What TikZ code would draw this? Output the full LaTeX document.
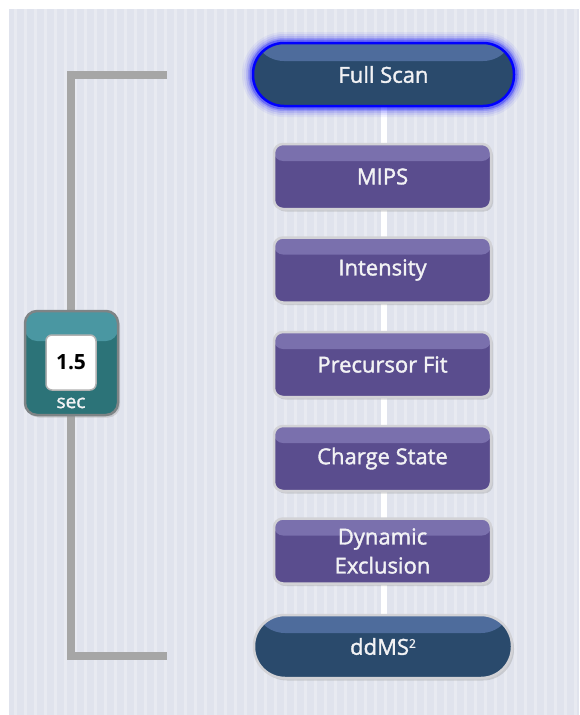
\documentclass[tikz,border=0pt]{standalone}
\usepackage{fontspec}
\setmainfont{Open Sans}
\newfontfamily\labelfont{Open Sans}[FakeBold=1.6]
\usetikzlibrary{shadows}

\definecolor{panelbg}{HTML}{E0E3ED}
\definecolor{panelstripe}{HTML}{E8EAF1}
\definecolor{bracketgray}{HTML}{A6A6A6}
\definecolor{scanbody}{HTML}{2A4A6C}
\definecolor{scanband}{HTML}{4E6C9C}
\definecolor{stepbody}{HTML}{5A4D8E}
\definecolor{stepband}{HTML}{7A70AD}
\definecolor{stepedge}{HTML}{D2D2D6}
\definecolor{timerbody}{HTML}{2C7378}
\definecolor{timerband}{HTML}{4A97A2}
\definecolor{timeredge}{HTML}{7E8486}
\definecolor{glowblue}{HTML}{0000FF}
\definecolor{labelwhite}{HTML}{F2F2F4}

\tikzset{
  x=1pt, y=-1pt,
  bandtop/.style 2 args={path picture={
      \fill[#1] ([yshift=2pt]path picture bounding box.north west) rectangle
        ([yshift=-#2]path picture bounding box.north east);}},
  softshadow/.style={drop shadow={shadow xshift=2pt, shadow yshift=-2.5pt,
    opacity=.35, fill=gray!80}},
  stepbox/.style={draw=stepedge, line width=2.5pt, fill=stepbody,
    rounded corners=9pt, minimum width=217pt, minimum height=65pt,
    bandtop={stepband}{17pt}, softshadow,
    text=labelwhite, font=\labelfont\fontsize{22}{24}\selectfont, align=center},
  scanpill/.style={draw=stepedge, line width=2.5pt, fill=scanbody,
    rounded corners=31pt, minimum width=258pt, minimum height=63pt,
    bandtop={scanband}{18pt},
    text=labelwhite, font=\labelfont\fontsize{22}{24}\selectfont},
  link/.style={draw=white, line width=6pt},
  bracket/.style={draw=bracketgray, line width=8pt},
}

\begin{document}
\begin{tikzpicture}
  % canvas and striped panel
  \useasboundingbox (0,0) rectangle (579,715);
  \fill[white] (0,0) rectangle (579,715);
  \fill[panelbg] (9,9) rectangle (579,715);
  \foreach \sx in {14,24,...,574}
    \fill[panelstripe] (\sx,9) rectangle (\sx+3,715);

  % time bracket on the left
  \coordinate (bt) at (167,75);
  \coordinate (btc) at (71,75);
  \coordinate (bbc) at (71,656);
  \coordinate (bb) at (167,656);
  \draw[bracket] (bt) -- (btc) -- (bbc) -- (bb);

  % white spine behind the pipeline
  \coordinate (spinetop) at (383.5,100);
  \coordinate (spinebot) at (383.5,620);
  \draw[link] (spinetop) -- (spinebot);

  % full scan with blue glow
  \foreach \w/\o in {20/.05,16/.07,12/.1,8/.16,5/.3}
    \draw[glowblue, line width=\w pt, opacity=\o, rounded corners=32pt]
      (252,42) rectangle (515,107);
  \node[scanpill, draw=glowblue, line width=2.5pt, minimum width=261pt]
    (scan) at (383.5,74.5) {Full Scan};

  % filtering steps
  \node[stepbox] (mips) at (382.5,176.5) {MIPS};
  \node[stepbox] (inten) at (382.5,270) {Intensity};
  \node[stepbox] (prec) at (382.5,364.5) {Precursor Fit};
  \node[stepbox] (charge) at (382.5,458.5) {Charge State};
  \node[stepbox, font=\labelfont\fontsize{22}{29}\selectfont] (dyn) at (382.5,551) {Dynamic\\Exclusion};

  % data dependent MS2
  \node[scanpill, softshadow] (ddms) at (383,646.5)
    {ddMS\raisebox{7pt}{\fontsize{12}{12}\selectfont 2}};

  % cycle time badge
  \node[draw=timeredge, line width=2.5pt, fill=timerbody, rounded corners=12pt,
    minimum width=93pt, minimum height=104pt, bandtop={timerband}{30pt}, softshadow]
    (timer) at (71.5,363) {};
  \node[draw=gray!60, line width=1.5pt, fill=white, rounded corners=6pt,
    minimum width=50pt, minimum height=55pt, font=\fontsize{21}{22}\selectfont\bfseries]
    (secs) at (71,362.5) {1.5};
  \node[text=labelwhite, font=\labelfont\fontsize{19}{20}\selectfont, inner sep=0pt]
    (unit) at (71,403) {sec};
\end{tikzpicture}
\end{document}
